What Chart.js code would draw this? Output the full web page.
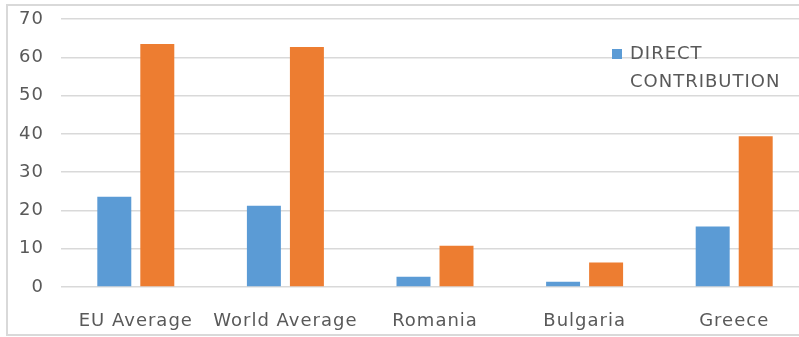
<!DOCTYPE html>
<html>
<head>
<meta charset="utf-8">
<script src="https://cdn.jsdelivr.net/npm/chart.js@4/dist/chart.umd.min.js"></script>
<style>
  html, body { margin: 0; padding: 0; background: #fff; overflow: hidden; }
  #frame {
    position: absolute; left: 6px; top: 4px;
    width: 810px; height: 328px;
    border: 2px solid #d9d9d9;
  }
  #chartCanvas { position: absolute; left: 1px; top: 1px; }
  #legend {
    position: absolute; left: 604px; top: 33px;
    font-family: "DejaVu Sans", sans-serif; font-size: 18px;
    letter-spacing: 1px;
    color: #595959; line-height: 28px;
  }
  #legend .box {
    position: absolute; left: 0; top: 10px;
    width: 10px; height: 10px; background: #5b9bd5;
  }
  #legend .text { margin-left: 18px; }
</style>
</head>
<body>
<div id="frame">
  <canvas id="chartCanvas" width="800" height="326"></canvas>
  <div id="legend"><span class="box"></span><div class="text">DIRECT<br>CONTRIBUTION</div></div>
</div>
<script>
const categories = ["EU Average", "World Average", "Romania", "Bulgaria", "Greece"];
const directContribution = [23.6, 21.2, 2.7, 1.4, 15.8];
const totalContribution = [63.5, 62.7, 10.8, 6.4, 39.4];
const yTicks = [0, 10, 20, 30, 40, 50, 60, 70];

const tickFont = { family: "DejaVu Sans", size: 18 };
const tickColor = "#595959";
const gridColor = "#d9d9d9";

const chartCanvas = document.getElementById("chartCanvas");

// wider letter spacing for the axis labels (canvas state is reset on resize, so set it per draw)
const letterSpacingPlugin = {
  id: "letterSpacing",
  beforeDraw(chart) {
    chart.ctx.letterSpacing = "1px";
  },
};

new Chart(chartCanvas, {
  type: "bar",
  data: {
    labels: categories,
    datasets: [
      {
        label: "DIRECT CONTRIBUTION",
        data: directContribution,
        backgroundColor: "#5b9bd5",
        categoryPercentage: 0.575,
        barPercentage: 0.79,
      },
      {
        label: "TOTAL CONTRIBUTION",
        data: totalContribution,
        backgroundColor: "#ed7d31",
        categoryPercentage: 0.575,
        barPercentage: 0.79,
      },
    ],
  },
  options: {
    responsive: false,
    animation: false,
    layout: { padding: { top: 12, left: 0, right: 0, bottom: 0 } },
    scales: {
      y: {
        min: 0,
        max: 70,
        afterBuildTicks: (scale) => {
          scale.ticks = yTicks.map((v) => ({ value: v }));
        },
        afterFit: (scale) => {
          scale.width = 52;
          scale.paddingTop = 0;
          scale.paddingBottom = 0;
        },
        grid: { color: gridColor, lineWidth: 1.5, drawTicks: false },
        border: { display: false },
        ticks: { color: tickColor, font: tickFont, padding: 17 },
      },
      x: {
        afterFit: (scale) => {
          scale.height = 46;
          scale.paddingLeft = 0;
          scale.paddingRight = 0;
        },
        grid: { display: false, drawTicks: false },
        border: { display: false },
        ticks: { color: tickColor, font: tickFont, padding: 24, maxRotation: 0 },
      },
    },
    plugins: {
      legend: { display: false },
      tooltip: { enabled: false },
    },
  },
  plugins: [letterSpacingPlugin],
});
</script>
</body>
</html>
